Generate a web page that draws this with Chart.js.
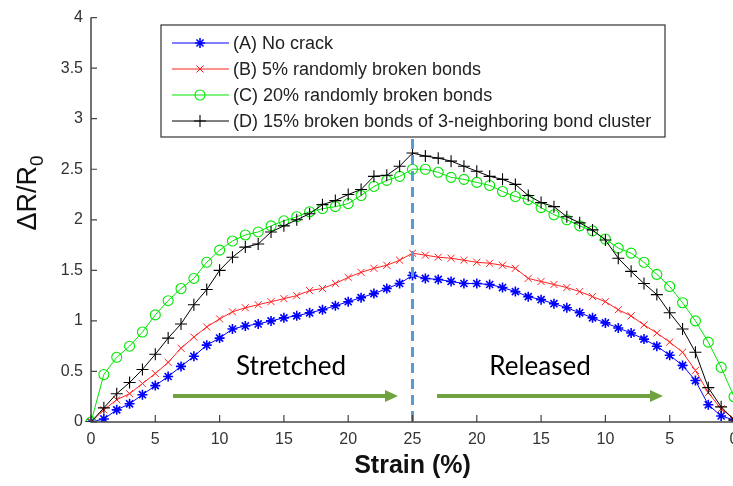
<!DOCTYPE html>
<html lang="en">
<head>
<meta charset="UTF-8">
<title>Resistance change vs strain</title>
<style>
  body { margin: 0; background: #fff; overflow: hidden; }
  #chartContainer { width: 760px; height: 486px; position: relative; }
</style>
</head>
<body>
<div id="chartContainer"><canvas id="strainChart"></canvas></div>

<script src="https://cdn.jsdelivr.net/npm/chart.js"></script>
<script>
// strain (%) : stretched 0 -> 25, then released 25 -> 0
const strainLabels = [0,1,2,3,4,5,6,7,8,9,10,11,12,13,14,15,16,17,18,19,20,21,22,23,24,25,
                      24,23,22,21,20,19,18,17,16,15,14,13,12,11,10,9,8,7,6,5,4,3,2,1,0];

// dR/R0 for each case
const noCrack = [0,0.03,0.12,0.18,0.27,0.36,0.45,0.55,0.65,0.76,0.83,0.92,0.95,0.97,1.00,1.03,1.05,1.08,1.11,1.15,1.19,1.23,1.27,1.32,1.37,1.45,
                 1.42,1.41,1.39,1.37,1.37,1.36,1.33,1.29,1.24,1.21,1.17,1.13,1.08,1.03,0.98,0.93,0.88,0.82,0.75,0.66,0.56,0.41,0.17,0.06,0.02];
const broken5 = [0,0.12,0.22,0.28,0.38,0.48,0.59,0.73,0.84,0.94,1.02,1.09,1.13,1.16,1.19,1.22,1.25,1.30,1.32,1.37,1.43,1.48,1.52,1.55,1.60,1.67,
                 1.65,1.63,1.62,1.60,1.58,1.57,1.55,1.52,1.42,1.39,1.36,1.33,1.29,1.24,1.19,1.11,1.05,0.96,0.88,0.79,0.69,0.51,0.29,0.13,0.03];
const broken20 = [0,0.47,0.64,0.75,0.89,1.06,1.20,1.32,1.42,1.58,1.70,1.79,1.85,1.88,1.94,1.99,2.03,2.08,2.11,2.13,2.16,2.24,2.33,2.39,2.43,2.50,
                  2.50,2.47,2.42,2.40,2.37,2.34,2.28,2.23,2.20,2.12,2.05,2.00,1.94,1.89,1.81,1.72,1.67,1.58,1.46,1.34,1.18,1.00,0.79,0.54,0.25];
const cluster15 = [0,0.14,0.28,0.39,0.52,0.67,0.83,0.97,1.16,1.31,1.50,1.63,1.73,1.76,1.88,1.94,2.00,2.06,2.15,2.19,2.25,2.30,2.43,2.44,2.53,2.66,
                   2.63,2.61,2.58,2.53,2.48,2.43,2.40,2.35,2.24,2.17,2.13,2.03,1.97,1.90,1.80,1.62,1.49,1.37,1.26,1.08,0.92,0.69,0.34,0.15,0.02];

const seriesNames = ['(A) No crack', '(B) 5% randomly broken bonds', '(C) 20% randomly broken bonds',
                     '(D) 15% broken bonds of 3-neighboring bond cluster'];

const peakIndex = 25;       // turning point, stretched -> released
const dashTop = 2.8;        // dashed marker goes from here down to 0

const axisColor = '#444';
const arrowGreen = '#70a33f';
const font = '"Liberation Sans", Arial, sans-serif';

// axes, inward ticks, annotations and the boxed legend
const decorPlugin = {
    id: 'decor',
    afterDatasetsDraw(chart) {
        const ctx = chart.ctx;
        const xs = chart.scales.x, ys = chart.scales.y;
        const area = chart.chartArea;
        ctx.save();

        // dashed line at 25 %
        const xp = xs.getPixelForValue(peakIndex);
        ctx.strokeStyle = '#5b9bd5';
        ctx.lineWidth = 3;
        ctx.setLineDash([10, 6]);
        ctx.beginPath();
        ctx.moveTo(xp, ys.getPixelForValue(dashTop));
        ctx.lineTo(xp, ys.getPixelForValue(0));
        ctx.stroke();
        ctx.setLineDash([]);

        // axis lines
        ctx.strokeStyle = axisColor;
        ctx.lineWidth = 1.5;
        ctx.beginPath();
        ctx.moveTo(area.left, area.top);
        ctx.lineTo(area.left, area.bottom);
        ctx.lineTo(area.right + 2, area.bottom);
        ctx.stroke();

        // inward ticks
        ctx.lineWidth = 1.2;
        ctx.beginPath();
        ys.ticks.forEach(t => {
            const y = ys.getPixelForValue(t.value);
            ctx.moveTo(area.left, y);
            ctx.lineTo(area.left + 6, y);
        });
        for (let i = 0; i < strainLabels.length; i += 5) {
            const x = xs.getPixelForValue(i);
            ctx.moveTo(x, area.bottom);
            ctx.lineTo(x, area.bottom - 7);
        }
        ctx.stroke();

        // arrows + labels
        function arrow(x1, x2, y) {
            ctx.strokeStyle = arrowGreen;
            ctx.fillStyle = arrowGreen;
            ctx.lineWidth = 4;
            ctx.beginPath();
            ctx.moveTo(x1, y);
            ctx.lineTo(x2 - 10, y);
            ctx.stroke();
            ctx.beginPath();
            ctx.moveTo(x2, y);
            ctx.lineTo(x2 - 13, y - 6);
            ctx.lineTo(x2 - 13, y + 6);
            ctx.closePath();
            ctx.fill();
        }
        arrow(173, 398, 396);
        arrow(437, 663, 396);

        ctx.fillStyle = '#000';
        ctx.font = '26px Lato, "Open Sans", sans-serif';
        ctx.textAlign = 'center';
        ctx.textBaseline = 'middle';
        ctx.fillText('Stretched', 291, 367);
        ctx.fillText('Released', 540, 367);

        // y axis title with subscript
        ctx.save();
        ctx.translate(29, 193);
        ctx.rotate(-Math.PI / 2);
        ctx.fillStyle = '#111';
        ctx.textAlign = 'left';
        ctx.textBaseline = 'middle';
        const main = '\u0394R/R';
        ctx.font = '27px ' + font;
        const w = ctx.measureText(main).width;
        ctx.font = '19px ' + font;
        const ws = ctx.measureText('0').width;
        const start = -(w + ws) / 2;
        ctx.font = '27px ' + font;
        ctx.fillText(main, start, 0);
        ctx.font = '19px ' + font;
        ctx.fillText('0', start + w, 9);
        ctx.restore();

        // legend box
        const box = { left: 161, top: 25, right: 665, bottom: 137 };
        ctx.fillStyle = '#fff';
        ctx.fillRect(box.left, box.top, box.right - box.left, box.bottom - box.top);
        ctx.strokeStyle = '#333';
        ctx.lineWidth = 1.2;
        ctx.strokeRect(box.left, box.top, box.right - box.left, box.bottom - box.top);
        const rows = [43, 69, 95, 121];
        chart.data.datasets.forEach((ds, i) => {
            const y = rows[i];
            ctx.strokeStyle = ds.borderColor;
            ctx.lineWidth = ds.borderWidth;
            ctx.beginPath();
            ctx.moveTo(172, y);
            ctx.lineTo(229, y);
            ctx.stroke();
            ctx.strokeStyle = ds.pointBorderColor;
            ctx.fillStyle = 'rgba(0,0,0,0)';
            ctx.lineWidth = ds.pointBorderWidth;
            Chart.helpers.drawPoint(ctx, {
                pointStyle: ds.pointStyle, radius: ds.pointRadius, rotation: 0,
                borderWidth: ds.pointBorderWidth
            }, 200, y);
            ctx.fillStyle = '#222';
            ctx.font = '18px ' + font;
            ctx.textAlign = 'left';
            ctx.textBaseline = 'middle';
            ctx.fillText(seriesNames[i], 233, y + 1);
        });

        ctx.restore();
    }
};

function series(label, data, color, style, radius, pw, order) {
    return {
        label: label,
        data: data,
        borderColor: color,
        borderWidth: 1,
        pointStyle: style,
        pointRadius: radius,
        pointBorderColor: color,
        pointBackgroundColor: 'rgba(0,0,0,0)',
        pointBorderWidth: pw,
        tension: 0,
        order: order
    };
}

const ctx = document.getElementById('strainChart').getContext('2d');
new Chart(ctx, {
    type: 'line',
    data: {
        labels: strainLabels,
        datasets: [
            series(seriesNames[0], noCrack, '#0000ff', 'star', 5, 1.6, 3),
            series(seriesNames[1], broken5, '#ff2020', 'crossRot', 5, 1, 2),
            series(seriesNames[2], broken20, '#00e600', 'circle', 5, 1.1, 1),
            series(seriesNames[3], cluster15, '#000000', 'cross', 6, 1.1, 0)
        ]
    },
    options: {
        responsive: true,
        maintainAspectRatio: false,
        animation: false,
        layout: { padding: { left: 0, top: 14, right: 26, bottom: 0 } },
        plugins: { legend: { display: false }, tooltip: { enabled: false } },
        scales: {
            x: {
                type: 'category',
                offset: false,
                grid: { display: false, drawTicks: false },
                border: { display: false },
                ticks: {
                    autoSkip: false,
                    maxRotation: 0,
                    padding: 8,
                    color: '#333',
                    font: { family: font, size: 16 },
                    callback: (val, i) => (i % 5 === 0 ? strainLabels[i] : '')
                },
                title: {
                    display: true,
                    text: 'Strain (%)',
                    color: '#111',
                    font: { family: font, size: 25, weight: 'bold' },
                    padding: { top: 0, bottom: 5 }
                },
                afterFit(scale) { scale.height = 64; }
            },
            y: {
                min: 0,
                max: 4,
                grid: { display: false, drawTicks: false },
                border: { display: false },
                ticks: {
                    stepSize: 0.5,
                    padding: 8,
                    color: '#333',
                    font: { family: font, size: 16 },
                    callback: v => String(v)
                },
                afterFit(scale) { scale.width = 91; }
            }
        }
    },
    plugins: [decorPlugin]
});
</script>
</body>
</html>
